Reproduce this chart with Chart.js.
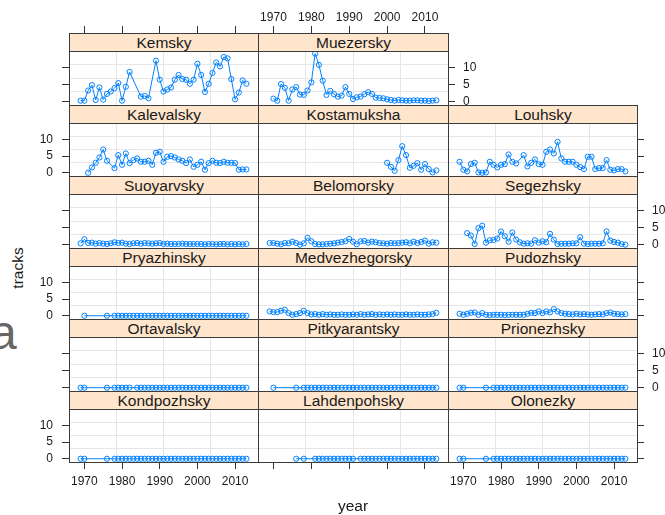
<!DOCTYPE html>
<html>
<head>
<meta charset="utf-8">
<script src="https://cdn.jsdelivr.net/npm/chart.js@4.4.1/dist/chart.umd.min.js"></script>
<style>
  html, body { margin: 0; padding: 0; background: #fff; overflow: hidden; }
  body { width: 665px; height: 515px; position: relative; font-family: "Liberation Sans", Arial, sans-serif; }
  canvas { position: absolute; }
  .strip { position: absolute; box-sizing: border-box; background: #ffe5cc; border: 1px solid #3c3c3c;
           text-align: center; font-size: 15.5px; line-height: 17px; color: #1a1a1a; z-index: 2; white-space: nowrap; overflow: hidden; }
  .lab { position: absolute; font-size: 15.5px; line-height: 18px; color: #1a1a1a; white-space: nowrap; z-index: 3; }
</style>
</head>
<body>
<div class="lab" style="left:18px; top:268px; transform: translate(-50%,-50%) rotate(-90deg);">tracks</div>
<div class="lab" style="left:353px; top:497px; transform: translateX(-50%);">year</div>
<div class="lab" style="left:-10px; top:309px; font-size:48px; line-height:48px; color:#666;">a</div>
<script>
// years on the x axis and tick labels
const years = [1969, 1970, 1971, 1972, 1973, 1974, 1975, 1976, 1977, 1978,
               1979, 1980, 1981, 1982, 1983, 1984, 1985, 1986, 1987, 1988,
               1989, 1990, 1991, 1992, 1993, 1994, 1995, 1996, 1997, 1998,
               1999, 2000, 2001, 2002, 2003, 2004, 2005, 2006, 2007, 2008,
               2009, 2010, 2011, 2012, 2013];
const yearTicks = [1970, 1980, 1990, 2000, 2010];
const trackTicks = [0, 5, 10];

// tracks per district, one value per year (null = no record)
const kemsky = [0.3, 0.3, 3.3, 4.9, 0.5, 4.2, 0.6, 2.3, 3.0, 4.0,
                5.5, 0.3, 4.4, 8.8, null, null, 1.5, 1.7, 1.0, null,
                12.1, 6.5, 3.0, 3.6, 4.2, 6.5, 7.9, 6.7, 6.5, 5.3,
                6.5, 11.2, 7.9, 2.9, 5.3, 8.5, 11.6, 10.4, 13.2, 12.8,
                6.7, 0.7, 2.7, 6.3, 5.3];
const muezersky = [null, 0.9, 0.3, 5.2, 4.1, 0.3, 3.6, 4.3, 2.1, 2.0,
                   3.3, 5.7, 14.2, 10.9, 6.2, 2.0, 3.2, 2.2, 1.5, 1.8,
                   4.3, 2.3, 0.8, 1.3, 1.5, 2.2, 2.8, 2.3, 1.2, 1.1,
                   1.0, 0.7, 0.5, 0.3, 0.5, 0.4, 0.3, 0.3, 0.4, 0.4,
                   0.3, 0.3, 0.2, 0.3, 0.4];
const kalevalsky = [null, null, 0.0, 1.6, 3.0, 4.6, 7.0, 3.6, null, 1.4,
                    5.3, 2.4, 5.8, 2.9, 3.8, 4.3, 3.3, 3.3, 3.6, 2.4,
                    6.0, 6.3, 3.3, 4.8, 5.0, 4.6, 4.0, 3.6, 2.9, 4.0,
                    1.8, 2.4, 3.3, 0.9, 2.9, 3.6, 3.0, 2.9, 3.3, 3.0,
                    3.0, 2.9, 0.9, 1.0, 1.0];
const kostamuksha = [null, null, null, null, null, null, null, null, null, null,
                     null, null, null, null, null, null, null, null, null, null,
                     null, null, null, null, null, null, null, null, null, null,
                     null, 3.0, 1.8, 0.6, 3.8, 8.0, 5.3, 1.5, 2.1, 2.9,
                     0.9, 2.6, 1.1, 0.1, 0.7];
const louhsky = [3.3, 0.9, 0.4, 2.6, 3.0, 0.1, 0.0, 0.1, 3.3, 2.4,
                 1.6, 2.4, 2.6, 5.5, 3.3, 2.8, null, 5.3, 1.9, 3.0,
                 4.0, 2.6, 2.4, 6.3, 7.0, 5.8, 9.3, 4.3, 3.3, 3.3,
                 3.3, 2.4, 1.7, 1.1, 4.8, 4.8, 1.1, 1.4, 1.4, 3.8,
                 0.9, 0.7, 1.1, 1.1, 0.4];
const suoyarvsky = [0.4, 1.6, 0.5, 0.6, 0.3, 0.5, 0.3, 0.2, 0.4, 0.7,
                    0.5, 0.6, 0.3, 0.2, 0.4, 0.5, 0.3, 0.5, 0.4, 0.3,
                    0.4, 0.5, 0.2, 0.3, 0.2, 0.2, 0.2, 0.3, 0.2, 0.2,
                    0.2, 0.2, 0.2, 0.1, 0.2, 0.2, 0.1, 0.2, 0.2, 0.1,
                    0.2, 0.1, 0.2, 0.1, 0.2];
const belomorsky = [0.5, 0.5, 0.3, 0.1, 0.5, 0.4, 0.9, 0.5, 0.0, 0.4,
                    2.0, 1.0, 0.2, 0.1, 0.1, 0.2, 0.3, 0.4, 0.6, 0.8,
                    1.0, 1.7, 0.9, 0.1, 1.0, 1.1, 0.6, 0.9, 0.7, 0.5,
                    0.4, 0.3, 0.5, 0.4, 0.5, 0.6, 0.7, 0.4, 0.9, 0.5,
                    0.8, 1.2, 0.3, 0.7, 0.6];
const segezhsky = [null, null, 3.4, 2.7, 0.2, 4.9, 5.6, 0.6, 1.3, 1.4,
                   1.8, 3.9, 2.5, 0.9, 3.6, 1.5, 0.7, 0.3, 0.4, 0.3,
                   1.3, 0.6, 1.0, 0.7, 3.2, 1.5, 0.2, 0.3, 0.3, 0.3,
                   0.4, 0.4, 2.2, 0.3, 0.2, 0.3, 0.3, 0.3, 0.4, 3.9,
                   1.2, 0.8, 0.6, 0.2, 0.0];
const pryazhinsky = [null, 0, null, null, null, null, null, 0, null, 0,
                     0, 0, 0, 0, 0, 0, 0, 0, 0, 0,
                     0, 0, 0, 0, 0, 0, 0, 0, 0, 0,
                     0, 0, 0, 0, 0, 0, 0, 0, 0, 0,
                     0, 0, 0, 0, 0];
const medvezhegorsky = [1.3, 1.1, 1.1, 1.5, 1.8, 0.8, 0.3, 0.5, 0.8, 1.5,
                        0.8, 0.4, 0.5, 0.3, 0.5, 0.3, 0.4, 0.3, 0.3, 0.4,
                        0.3, 0.3, 0.4, 0.3, 0.5, 0.3, 0.4, 0.5, 0.3, 0.4,
                        0.3, 0.4, 0.3, 0.4, 0.3, 0.3, 0.4, 0.3, 0.3, 0.4,
                        0.3, 0.3, 0.4, 0.5, 0.9];
const pudozhsky = [0.6, 0.3, 0.6, 0.9, 1.0, 0.3, 0.8, 0.3, 0.2, 0.3,
                   0.3, 0.3, 0.2, 0.3, 0.3, 0.3, 0.3, 0.3, 0.6, 0.9,
                   0.8, 1.3, 0.8, 1.3, 1.0, 2.0, 1.3, 0.8, 0.6, 0.5,
                   0.4, 0.6, 0.4, 0.5, 0.4, 0.3, 0.4, 0.5, 0.4, 0.8,
                   1.0, 0.6, 0.5, 0.4, 0.5];
const ortavalsky = [0, 0, null, null, null, null, null, 0, null, 0,
                    0, 0, 0, 0, null, 0, 0, 0, 0, 0,
                    0, 0, 0, 0, 0, 0, 0, 0, 0, 0,
                    0, 0, 0, 0, 0, 0, 0, 0, 0, 0,
                    0, 0, 0, 0, 0];
const pitkyarantsky = [null, 0, null, null, null, null, null, 0, null, 0,
                       0, 0, 0, 0, 0, 0, 0, 0, 0, 0,
                       0, 0, 0, 0, 0, 0, 0, 0, 0, 0,
                       0, 0, 0, 0, 0, 0, 0, 0, 0, 0,
                       0, 0, 0, 0, 0];
const prionezhsky = [0, 0, null, null, null, null, null, 0, null, 0,
                     0, 0, 0, 0, 0, 0, 0, 0, 0, 0,
                     0, 0, 0, 0, 0, 0, 0, 0, 0, 0,
                     0, 0, 0, 0, 0, 0, 0, 0, 0, 0,
                     0, 0, 0, 0, 0];
const kondpozhsky = [0, 0, null, null, null, null, null, 0, null, 0,
                     0, 0, 0, 0, 0, 0, 0, 0, 0, 0,
                     0, 0, 0, 0, 0, 0, 0, 0, 0, 0,
                     0, 0, 0, 0, 0, 0, 0, 0, 0, 0,
                     0, 0, 0, 0, 0];
const lahdenpohsky = [null, null, null, null, null, null, null, 0, null, 0,
                      null, null, 0, 0, 0, 0, 0, 0, 0, 0,
                      0, 0, 0, null, 0, 0, 0, 0, 0, 0,
                      0, 0, 0, 0, 0, 0, 0, 0, 0, 0,
                      0, 0, 0, 0, 0];
const olonezky = [0, 0, null, null, null, null, null, 0, null, 0,
                  0, 0, 0, 0, 0, 0, 0, 0, 0, 0,
                  0, 0, 0, 0, 0, 0, 0, 0, 0, 0,
                  0, 0, 0, 0, 0, 0, 0, 0, 0, 0,
                  0, 0, 0, 0, 0];

// panel order (lattice layout, top row first)
const panels = [
  { name: 'Kemsky', data: kemsky, row: 0, col: 0 },
  { name: 'Muezersky', data: muezersky, row: 0, col: 1 },
  { name: 'Kalevalsky', data: kalevalsky, row: 1, col: 0 },
  { name: 'Kostamuksha', data: kostamuksha, row: 1, col: 1 },
  { name: 'Louhsky', data: louhsky, row: 1, col: 2 },
  { name: 'Suoyarvsky', data: suoyarvsky, row: 2, col: 0 },
  { name: 'Belomorsky', data: belomorsky, row: 2, col: 1 },
  { name: 'Segezhsky', data: segezhsky, row: 2, col: 2 },
  { name: 'Pryazhinsky', data: pryazhinsky, row: 3, col: 0 },
  { name: 'Medvezhegorsky', data: medvezhegorsky, row: 3, col: 1 },
  { name: 'Pudozhsky', data: pudozhsky, row: 3, col: 2 },
  { name: 'Ortavalsky', data: ortavalsky, row: 4, col: 0 },
  { name: 'Pitkyarantsky', data: pitkyarantsky, row: 4, col: 1 },
  { name: 'Prionezhsky', data: prionezhsky, row: 4, col: 2 },
  { name: 'Kondpozhsky', data: kondpozhsky, row: 5, col: 0 },
  { name: 'Lahdenpohsky', data: lahdenpohsky, row: 5, col: 1 },
  { name: 'Olonezky', data: olonezky, row: 5, col: 2 }
];

// page geometry
const colLeft = [69, 258, 448];
const colWidth = [189, 190, 189];
const rowTop = [33, 105, 176, 248, 319, 391, 462];
const stripH = 18;
const M = { l: 40, r: 40, t: 45, b: 40 };
const xMin = 1965.92, xMax = 2016.08;
const yMin = -0.98, yMax = 14.98;

Chart.defaults.font.family = "'Liberation Sans', Arial, sans-serif";

function axis(pos, min, max, tickVals, showTicks, showLabels, tickLen, pad) {
  return {
    type: 'linear', position: pos, min: min, max: max,
    afterBuildTicks: s => { s.ticks = tickVals.map(v => ({ value: v })); },
    afterFit: s => {
      if (pos === 'left') s.width = M.l;
      else if (pos === 'right') s.width = M.r;
      else if (pos === 'top') s.height = M.t;
      else s.height = M.b;
    },
    grid: { drawOnChartArea: false, drawTicks: showTicks, tickLength: tickLen, tickColor: '#333', tickWidth: 1 },
    border: { display: true, color: '#3c3c3c', width: 1 },
    ticks: {
      display: showLabels, padding: pad, color: '#1a1a1a', font: { size: 12 },
      maxRotation: 0, minRotation: 0, autoSkip: false,
      callback: v => String(v)   // no thousands separator on years
    }
  };
}

// light reference grid: 3 evenly spaced lines each way
function gridAxis(pos, min, max) {
  return {
    type: 'linear', position: pos, min: min, max: max,
    afterBuildTicks: s => {
      const q = (s.max - s.min) / 4;
      s.ticks = [1, 2, 3].map(i => ({ value: s.min + q * i }));
    },
    afterFit: s => { if (pos === 'left') s.width = 0; else s.height = 0; },
    grid: { color: '#e6e6e6', lineWidth: 1, drawTicks: false },
    border: { display: false },
    ticks: { display: false }
  };
}

panels.forEach(p => {
  const r = p.row, c = p.col;
  const plotTop = rowTop[r] + stripH;
  const plotH = rowTop[r + 1] - plotTop;
  const w = colWidth[c];
  const lastInRow = (r === 0 && c === 1) || c === 2;

  const cv = document.createElement('canvas');
  cv.width = w + M.l + M.r;
  cv.height = plotH + M.t + M.b;
  cv.style.left = (colLeft[c] - M.l) + 'px';
  cv.style.top = (plotTop - M.t) + 'px';
  cv.style.width = cv.width + 'px';
  cv.style.height = cv.height + 'px';
  document.body.appendChild(cv);

  const strip = document.createElement('div');
  strip.className = 'strip';
  strip.style.left = colLeft[c] + 'px';
  strip.style.top = rowTop[r] + 'px';
  strip.style.width = (w + 1) + 'px';
  strip.style.height = (stripH + 1) + 'px';
  strip.textContent = p.name;
  document.body.appendChild(strip);

  new Chart(cv, {
    type: 'line',
    data: {
      datasets: [{
        data: p.data.map((v, i) => ({ x: years[i], y: v })),
        borderColor: '#0080ff',
        borderWidth: 1,
        pointRadius: 2.6,
        pointBorderWidth: 1,
        pointBorderColor: '#0080ff',
        pointBackgroundColor: 'rgba(0,0,0,0)',
        spanGaps: true,
        tension: 0,
        xAxisID: 'x',
        yAxisID: 'y'
      }]
    },
    options: {
      responsive: false,
      animation: false,
      devicePixelRatio: 1,
      events: [],
      layout: { padding: 0 },
      plugins: { legend: { display: false }, tooltip: { enabled: false } },
      scales: {
        x: axis('bottom', xMin, xMax, yearTicks, r === 5, r === 5 && c !== 1, 7, 5),
        x2: axis('top', xMin, xMax, yearTicks, r === 0, r === 0 && c === 1, stripH + 7, 1),
        y: axis('left', yMin, yMax, trackTicks, c === 0, c === 0 && r % 2 === 1, 7, 9),
        y2: axis('right', yMin, yMax, trackTicks, lastInRow, lastInRow && r % 2 === 0, 7, 8),
        gx: gridAxis('bottom', xMin, xMax),
        gy: gridAxis('left', yMin, yMax)
      }
    }
  });
});
</script>
</body>
</html>
